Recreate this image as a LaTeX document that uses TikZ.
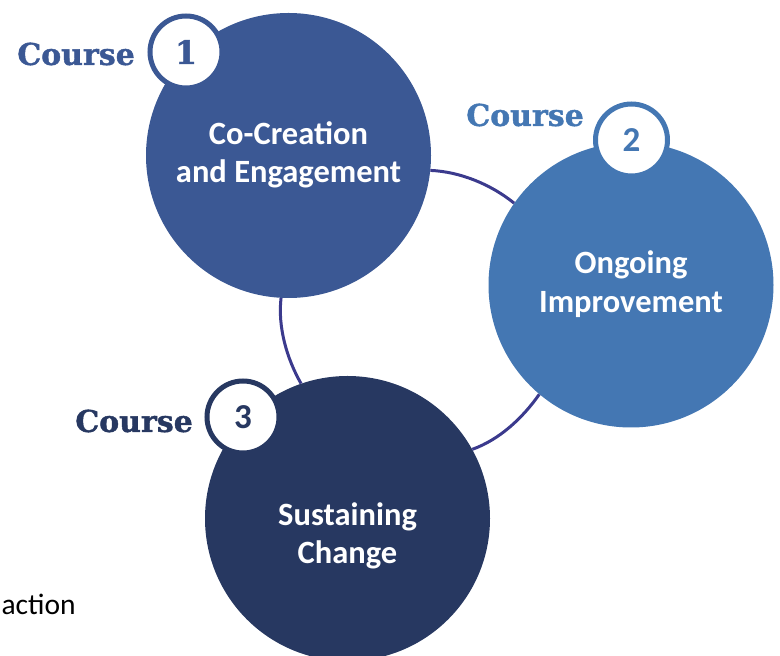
\documentclass[tikz,border=0pt]{standalone}
\usepackage{fontspec}
\setmainfont{Carlito}
\newfontfamily\slabfont{DejaVu Serif}[BoldFeatures={FakeBold=1.3}]
\usepackage{xcolor}
\usepackage{tikz}
\usetikzlibrary{positioning}
\definecolor{courseone}{HTML}{3B5894}
\definecolor{coursetwo}{HTML}{4477B3}
\definecolor{coursethree}{HTML}{273861}
\definecolor{ringblue}{HTML}{3B3A8D}

\begin{document}
\begin{tikzpicture}[
  x=1pt, y=1pt,
  big/.style={circle, inner sep=0pt, minimum size=285pt},
  txt/.style={text=white, align=center, font=\bfseries\fontsize{32.5}{38.5}\selectfont},
  badge/.style={circle, draw, fill=white, line width=5pt, inner sep=0pt,
    minimum size=72pt, font=\bfseries\fontsize{35}{40}\selectfont},
  course/.style={anchor=east, inner sep=0pt, font=\slabfont\bfseries\fontsize{30}{36}\selectfont},
  ring/.style={draw=ringblue, line width=3pt, looseness=0.85}
]
  \useasboundingbox (0,0) rectangle (780,656);

  \node[big, fill=courseone] (C1) at (288.5,500.5) {};
  \node[big, fill=coursetwo] (C2) at (631,371) {};
  \node[big, fill=coursethree] (C3) at (347.5,137.5) {};

  \node[txt] (T1) at (288.5,501) {Co-Creation\\and Engagement};
  \node[txt] (T2) at (631,372) {Ongoing\\Improvement};
  \node[txt] (T3) at (347.5,120) {Sustaining\\Change};

  \draw[ring] (C1.-6.7) to[out=-2.5, in=141] (C2.145.4);
  \draw[ring] (C2.230.6) to[out=-125, in=19.5] (C3.29.7);
  \draw[ring] (C3.109.3) to[out=119.6, in=263.5] (C1.267.7);

  \node[badge, draw=courseone, text=courseone, font=\slabfont\bfseries\fontsize{32}{38}\selectfont] (B1) at (186,604) {1};
  \node[badge, draw=coursetwo, text=coursetwo] (B2) at (631.5,516) {2};
  \node[badge, draw=coursethree, text=coursethree] (B3) at (243,239) {3};

  \node[course, text=courseone] (L1) at (135,602) {Course};
  \node[course, text=coursetwo] (L2) at (584,541) {Course};
  \node[course, text=coursethree] (L3) at (193,235) {Course};

  \node[anchor=base west, font=\fontsize{29.5}{35}\selectfont] (A) at (-2,41) {action};
\end{tikzpicture}
\end{document}
